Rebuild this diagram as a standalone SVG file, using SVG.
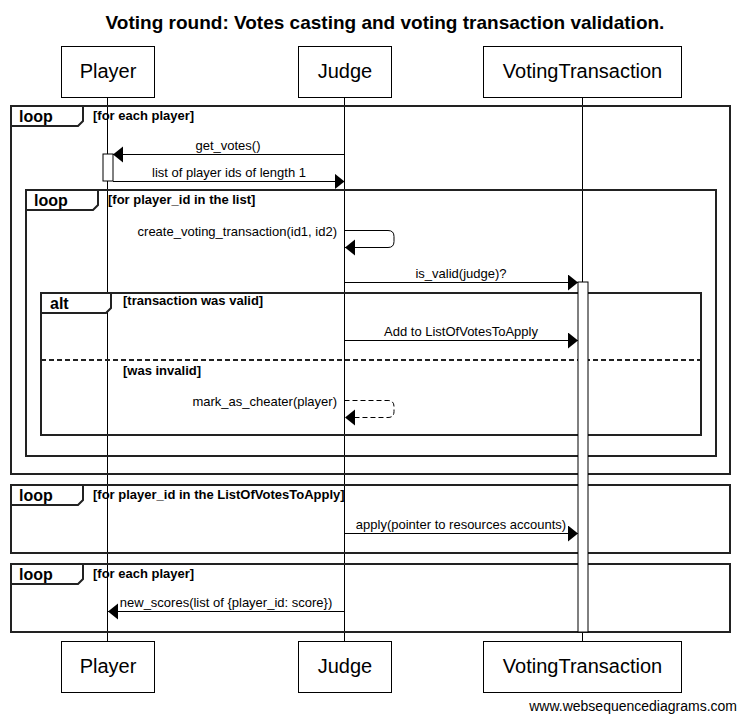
<svg xmlns="http://www.w3.org/2000/svg" width="739" height="714" viewBox="0 0 739 714">
<style>
text{font-family:"Liberation Sans",Arial,sans-serif;fill:#000}
.title{font-size:19px;font-weight:bold}
.pt{font-size:20px}
.msg{font-size:13px}
.cond{font-size:13px;font-weight:bold}
.op{font-size:16px;font-weight:bold}
.box{fill:#fff;stroke:#000;stroke-width:1}
.life{stroke:#000;stroke-width:1;fill:none}
.frame{fill:none;stroke:#222;stroke-width:2}
.tab{fill:#fff;stroke:#222;stroke-width:2}
.act{fill:#fff;stroke:#000;stroke-width:1}
.m{stroke:#000;stroke-width:1;fill:none;marker-end:url(#ah)}
.d{stroke-dasharray:5,3}
</style>
<defs>
<marker id="ah" markerUnits="userSpaceOnUse" markerWidth="11" markerHeight="17" refX="10" refY="8" orient="auto">
<path d="M0,0 L10,8 L0,16 Z" fill="#000" stroke="none"/>
</marker>
</defs>
<rect width="739" height="714" fill="#fff"/>
<text class="title" x="385" y="29" text-anchor="middle">Voting round: Votes casting and voting transaction validation.</text>

<g id="lifelines">
<line class="life" x1="107.5" y1="97" x2="107.5" y2="641"/>
<line class="life" x1="344.5" y1="97" x2="344.5" y2="641"/>
<line class="life" x1="582.5" y1="97" x2="582.5" y2="641"/>
</g>

<g id="frames">
<rect class="frame" x="11" y="106" width="719" height="368"/>
<path class="tab" d="M11,106 H83 V121 L78,126 H11 Z"/>
<text class="op" x="19" y="122">loop</text>
<text class="cond" x="93" y="120">[for each player]</text>

<rect class="frame" x="26" y="190" width="690" height="266"/>
<path class="tab" d="M26,190 H98 V205 L93,210 H26 Z"/>
<text class="op" x="34" y="206">loop</text>
<text class="cond" x="108" y="204">[for player_id in the list]</text>

<rect class="frame" x="41" y="293" width="660" height="142"/>
<path class="tab" d="M41,293 H111 V308 L106,313 H41 Z"/>
<text class="op" x="50" y="309">alt</text>
<text class="cond" x="123" y="305">[transaction was valid]</text>
<line x1="41" y1="360" x2="701" y2="360" stroke="#222" stroke-width="2" stroke-dasharray="5,3"/>
<text class="cond" x="123" y="375">[was invalid]</text>

<rect class="frame" x="11" y="485" width="719" height="68"/>
<path class="tab" d="M11,485 H83 V500 L78,505 H11 Z"/>
<text class="op" x="19" y="501">loop</text>
<text class="cond" x="93" y="499">[for player_id in the ListOfVotesToApply]</text>

<rect class="frame" x="11" y="564" width="719" height="68"/>
<path class="tab" d="M11,564 H83 V579 L78,584 H11 Z"/>
<text class="op" x="19" y="580">loop</text>
<text class="cond" x="93" y="578">[for each player]</text>
</g>

<g id="activations">
<rect class="act" x="103" y="154" width="10" height="27"/>
<rect class="act" x="578" y="282" width="10" height="350"/>
</g>

<g id="connectors">
<line class="m" x1="344.5" y1="154.5" x2="113" y2="154.5"/>
<text class="msg" x="228" y="150" text-anchor="middle">get_votes()</text>
<line class="m" x1="113" y1="181.5" x2="344.5" y2="181.5"/>
<text class="msg" x="229" y="177" text-anchor="middle">list of player ids of length 1</text>

<path class="m" d="M344.5,230.5 H388 Q394,230.5 394,236.5 V241.5 Q394,247.5 388,247.5 H345"/>
<text class="msg" x="337" y="236" text-anchor="end">create_voting_transaction(id1, id2)</text>

<line class="m" x1="344.5" y1="282.5" x2="578" y2="282.5"/>
<text class="msg" x="461" y="278" text-anchor="middle">is_valid(judge)?</text>

<line class="m" x1="344.5" y1="340.5" x2="578" y2="340.5"/>
<text class="msg" x="461" y="336" text-anchor="middle">Add to ListOfVotesToApply</text>

<path class="m d" d="M344.5,400.5 H388 Q394,400.5 394,406.5 V411.5 Q394,417.5 388,417.5 H345"/>
<text class="msg" x="337" y="406" text-anchor="end">mark_as_cheater(player)</text>

<line class="m" x1="344.5" y1="533.5" x2="578" y2="533.5"/>
<text class="msg" x="461" y="529" text-anchor="middle">apply(pointer to resources accounts)</text>

<line class="m" x1="344.5" y1="611.5" x2="108" y2="611.5"/>
<text class="msg" x="226" y="607" text-anchor="middle">new_scores(list of {player_id: score})</text>
</g>

<g id="player">
<rect class="box" x="61.5" y="46.5" width="93" height="51"/>
<text class="pt" x="108" y="78" text-anchor="middle">Player</text>
<rect class="box" x="61.5" y="641.5" width="93" height="51"/>
<text class="pt" x="108" y="673" text-anchor="middle">Player</text>
</g>
<g id="judge">
<rect class="box" x="298.5" y="46.5" width="93" height="51"/>
<text class="pt" x="345" y="78" text-anchor="middle">Judge</text>
<rect class="box" x="298.5" y="641.5" width="93" height="51"/>
<text class="pt" x="345" y="673" text-anchor="middle">Judge</text>
</g>
<g id="votingtransaction">
<rect class="box" x="483.5" y="46.5" width="198" height="51"/>
<text class="pt" x="582.5" y="78" text-anchor="middle">VotingTransaction</text>
<rect class="box" x="483.5" y="641.5" width="198" height="51"/>
<text class="pt" x="582.5" y="673" text-anchor="middle">VotingTransaction</text>
</g>

<text x="737" y="711" text-anchor="end" font-size="14px">www.websequencediagrams.com</text>
</svg>
